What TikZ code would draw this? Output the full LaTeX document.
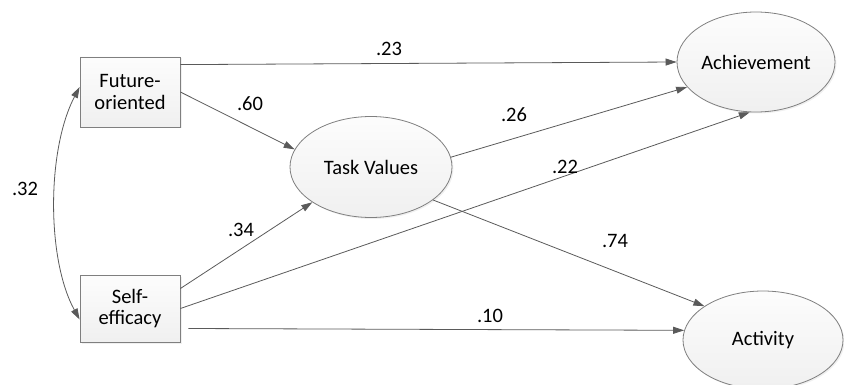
\documentclass[tikz,border=0pt]{standalone}
\usepackage{fontspec}
\setmainfont{Carlito}
\usetikzlibrary{arrows.meta,shapes.geometric,shadows}
\definecolor{edgecol}{HTML}{5A5A5A}
\definecolor{bordercol}{HTML}{7F7F7F}
\tikzset{
  varbox/.style={draw=bordercol, line width=0.8pt, top color=white!99!black, bottom color=white!94!black,
    minimum width=100pt, align=center, inner sep=0pt,
    drop shadow={opacity=0.12, shadow xshift=1.5pt, shadow yshift=-1.5pt},
    font=\fontsize{20.5}{21.5}\selectfont},
  latent/.style={ellipse, draw=bordercol, line width=0.8pt, top color=white!99!black, bottom color=white!94!black,
    inner sep=0pt, drop shadow={opacity=0.12, shadow xshift=1.5pt, shadow yshift=-1.5pt},
    font=\fontsize{20.5}{22}\selectfont},
  path/.style={draw=edgecol, line width=0.8pt, -{Triangle[length=11pt,width=7pt]}},
  coef/.style={font=\fontsize{20.5}{22}\selectfont, text=black, inner sep=0pt}
}
\begin{document}
\begin{tikzpicture}[x=1pt, y=-1pt]
\useasboundingbox (0,0) rectangle (844,385);
\node[varbox, minimum height=70pt] (fut) at (130,92) {Future-\\oriented};
\node[varbox, minimum height=67pt] (self) at (130,308.5) {Self-\\efficacy};
\node[latent, minimum width=162pt, minimum height=101pt] (tv) at (371,167) {Task Values};
\node[latent, minimum width=158pt, minimum height=100pt] (ach) at (756,62) {Achievement};
\node[latent, minimum width=160pt, minimum height=98pt] (act) at (763,340) {Activity};

\coordinate (s10) at ([xshift=8pt, yshift=-20pt]self.east);

\draw[path] ([yshift=-8pt]fut.north east) -- (ach.west);
\draw[path] (fut.east) -- (tv.167);
\draw[path] (tv.7) -- (ach.200);
\draw[path] ([yshift=20pt]self.east) -- (tv.211);
\draw[path] (self.east) -- (ach.263);
\draw[path] (tv.-28) -- (act.150);
\draw[path] (s10) -- (act.173);
\draw[draw=edgecol, line width=0.8pt, {Triangle[length=11pt,width=7pt]}-{Triangle[length=11pt,width=7pt]}]
  ([yshift=5pt]fut.west) .. controls +(-33,63) and +(-33,-60) .. ([yshift=-11pt]self.west);

\node[coef] (c23) at (389,49) {.23};
\node[coef] (c60) at (250,104) {.60};
\node[coef] (c26) at (514,115) {.26};
\node[coef] (c22) at (565,167) {.22};
\node[coef] (c34) at (241,230) {.34};
\node[coef] (c74) at (615,241) {.74};
\node[coef] (c10) at (490,316) {.10};
\node[coef] (c32) at (25,189) {.32};
\end{tikzpicture}
\end{document}
